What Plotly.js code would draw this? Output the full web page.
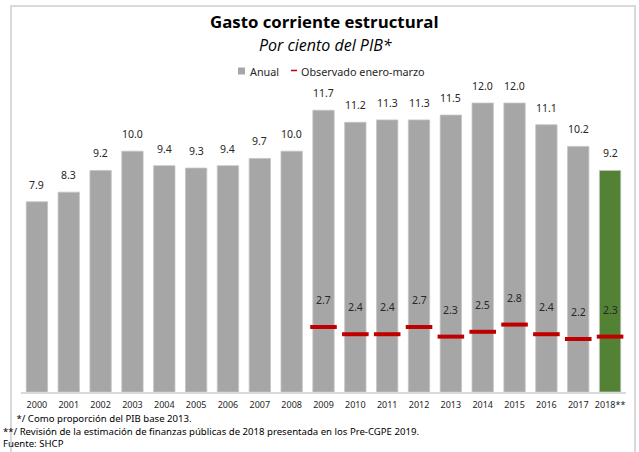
<!DOCTYPE html>
<html>
<head>
<meta charset="utf-8">
<script src="https://cdn.plot.ly/plotly-3.0.1.min.js"></script>
<style>
html,body{margin:0;padding:0;background:#fff;}
#wrap{position:relative;width:639px;height:452px;overflow:hidden;}
#frame{position:absolute;left:10px;top:5px;width:626px;height:460px;border:2px solid #d9d9d9;box-sizing:border-box;pointer-events:none;}
#chart{position:absolute;left:0;top:0;width:639px;height:452px;}
</style>
</head>
<body>
<div id="wrap"><div id="frame"></div><div id="chart"></div></div>
<script>
const years = ["2000","2001","2002","2003","2004","2005","2006","2007","2008","2009","2010","2011","2012","2013","2014","2015","2016","2017","2018**"];
const anual = [7.9,8.3,9.2,10.0,9.4,9.3,9.4,9.7,10.0,11.7,11.2,11.3,11.3,11.5,12.0,12.0,11.1,10.2,9.2];
const eneroMarzo = [null,null,null,null,null,null,null,null,null,2.7,2.4,2.4,2.7,2.3,2.5,2.8,2.4,2.2,2.3];
const seriesNames = ["Anual","Observado enero-marzo"];
const barColors = years.map((y,i)=> i===years.length-1 ? "#548235" : "#a6a6a6");
const titleText = "Gasto corriente estructural";
const subtitleText = "Por ciento del PIB*";
const footnotes = [" */ Como proporción del PIB base 2013.","**/ Revisión de la estimación de finanzas públicas de 2018 presentada en los Pre-CGPE 2019.","Fuente: SHCP"];

const font = "Noto Sans, Open Sans, sans-serif";
const L = 21, T = 90, PW = 605, PH = 302;
const px = p => (p - L) / PW;
const py = p => 1 - (p - T) / PH;

const traces = [
  {type:"bar", x:years, y:anual, name:seriesNames[0], width:0.67,
   marker:{color:barColors, line:{color:"#c4c4c4", width:0.8}}, hoverinfo:"skip", showlegend:false},
  {type:"scatter", mode:"markers", x:years, y:eneroMarzo, name:seriesNames[1],
   marker:{symbol:"line-ew", size:19, color:"#c00000", line:{color:"#c00000", width:4}}, showlegend:false, hoverinfo:"skip"}
];

const annotations = [];
years.forEach((y,i)=>{
  annotations.push({x:i, y:anual[i], xref:"x", yref:"y", text:anual[i].toFixed(1), showarrow:false,
    yanchor:"middle", yshift:17, font:{family:font, size:10.5, color:"#262626"}});
  if (eneroMarzo[i] !== null) {
    annotations.push({x:i, y:eneroMarzo[i], xref:"x", yref:"y", text:eneroMarzo[i].toFixed(1), showarrow:false,
      yanchor:"middle", yshift:27, font:{family:font, size:10.5, color:"#262626"}});
  }
});
annotations.push({xref:"paper", yref:"paper", x:px(324), y:py(22), text:"<b>"+titleText+"</b>", showarrow:false,
  xanchor:"center", yanchor:"middle", font:{family:"Open Sans, sans-serif", size:16.8, color:"#000"}});
annotations.push({xref:"paper", yref:"paper", x:px(325), y:py(45), text:"<i>"+subtitleText+"</i>", showarrow:false,
  xanchor:"center", yanchor:"middle", font:{family:"Open Sans, sans-serif", size:16, color:"#000"}});
// legend texts
annotations.push({xref:"paper", yref:"paper", x:px(248), y:py(71), text:seriesNames[0], showarrow:false,
  xanchor:"left", yanchor:"middle", font:{family:font, size:10.8, color:"#262626"}});
annotations.push({xref:"paper", yref:"paper", x:px(299), y:py(71), text:seriesNames[1], showarrow:false,
  xanchor:"left", yanchor:"middle", font:{family:font, size:10.8, color:"#262626"}});
const footY = [418, 431, 443];
const footX = [12, 1, 1];
footnotes.forEach((t,i)=>{
  annotations.push({xref:"paper", yref:"paper", x:px(footX[i]), y:py(footY[i]), text:t, showarrow:false,
    xanchor:"left", yanchor:"middle", font:{family:font, size:9.6, color:"#000"}});
});

const shapes = [
  {type:"rect", xref:"paper", yref:"paper", x0:px(238), x1:px(245), y0:py(74.5), y1:py(67.5),
   fillcolor:"#a6a6a6", line:{width:0}},
  {type:"line", xref:"paper", yref:"paper", x0:px(291), x1:px(297), y0:py(70.5), y1:py(70.5),
   line:{color:"#c00000", width:1.5}}
];

const layout = {
  width:639, height:452,
  margin:{l:L, r:639-L-PW, t:T, b:452-T-PH, pad:0},
  paper_bgcolor:"rgba(0,0,0,0)", plot_bgcolor:"rgba(0,0,0,0)",
  showlegend:false,
  xaxis:{type:"category", range:[-0.5, 18.5], showgrid:false, zeroline:false, showline:true,
    linecolor:"#d9d9d9", linewidth:2, ticks:"", ticklabelstandoff:3,
    tickfont:{family:font, size:9, color:"#262626"}, fixedrange:true},
  yaxis:{range:[0, PH/24.08], visible:false, showgrid:false, zeroline:false, fixedrange:true},
  annotations:annotations,
  shapes:shapes
};
Plotly.newPlot("chart", traces, layout, {displayModeBar:false, staticPlot:true});
</script>
</body>
</html>
